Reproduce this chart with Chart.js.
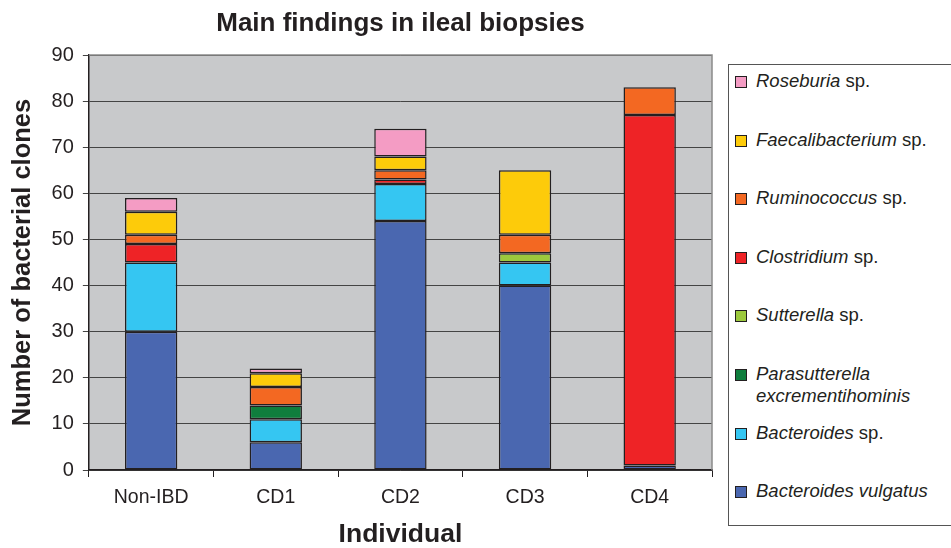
<!DOCTYPE html>
<html>
<head>
<meta charset="utf-8">
<script src="https://cdn.jsdelivr.net/npm/chart.js@4.4.1/dist/chart.umd.min.js"></script>
<style>
  body { margin: 0; background: #fff; font-family: "Liberation Sans", Arial, sans-serif; }
  #wrap { position: relative; width: 951px; height: 548px; }
  #legend { position: absolute; left: 728px; top: 64px; width: 240px; height: 462px;
            border: 1px solid #555; box-sizing: border-box; background: #fff; }
  .item { position: absolute; left: 6px; font-size: 18.5px; line-height: 22px; color: #231f20; white-space: nowrap; }
  .item i { font-style: italic; }
  .sw { position: absolute; left: 0; top: 6px; width: 10px; height: 10px; border: 1px solid #231f20; }
  .txt { margin-left: 21px; }
</style>
</head>
<body>
<div id="wrap">
  <canvas id="bar-chart" width="951" height="548"></canvas>
  <div id="legend"></div>
</div>
<script>
var individuals = ['Non-IBD', 'CD1', 'CD2', 'CD3', 'CD4'];

// counts per individual, bottom of stack first
var bacteroidesVulgatus = [30, 6, 54, 40, 1];
var bacteroidesSp       = [15, 5, 8, 5, 0];
var parasutterella      = [0, 3, 0, 0, 0];
var sutterella          = [0, 0, 0, 2, 0];
var clostridium         = [4, 0, 1, 0, 76];
var ruminococcus        = [2, 4, 2, 4, 6];
var faecalibacterium    = [5, 3, 3, 14, 0];
var roseburia           = [3, 1, 6, 0, 0];

var yTicks = [0, 10, 20, 30, 40, 50, 60, 70, 80, 90];

var series = [
  { genus: 'Bacteroides vulgatus', rest: '', data: bacteroidesVulgatus, color: '#4a67b0' },
  { genus: 'Bacteroides', rest: ' sp.', data: bacteroidesSp, color: '#35c6f2' },
  { genus: 'Parasutterella<br>excrementihominis', rest: '', data: parasutterella, color: '#0f7e3d' },
  { genus: 'Sutterella', rest: ' sp.', data: sutterella, color: '#9cc93d' },
  { genus: 'Clostridium', rest: ' sp.', data: clostridium, color: '#ee2326' },
  { genus: 'Ruminococcus', rest: ' sp.', data: ruminococcus, color: '#f36822' },
  { genus: 'Faecalibacterium', rest: ' sp.', data: faecalibacterium, color: '#fdcb0a' },
  { genus: 'Roseburia', rest: ' sp.', data: roseburia, color: '#f49cc4' }
];

var chartTitle = 'Main findings in ileal biopsies';

var plotBg = {
  id: 'plotBg',
  beforeDraw: function(chart) {
    var a = chart.chartArea, c = chart.ctx;
    c.save();
    c.fillStyle = '#c8c9cb';
    c.fillRect(a.left, a.top, a.right - a.left, a.bottom - a.top);
    c.restore();
  },
  afterDatasetsDraw: function(chart) {
    var a = chart.chartArea, c = chart.ctx;
    c.save();
    c.strokeStyle = '#8a8a8a';
    c.lineWidth = 1.5;
    c.beginPath();
    c.moveTo(a.left, a.top); c.lineTo(a.right, a.top); c.lineTo(a.right, a.bottom);
    c.stroke();
    // title sits centred over the plot area, not the whole canvas
    c.fillStyle = '#231f20';
    c.font = 'bold 26px "Liberation Sans"';
    c.textAlign = 'center';
    c.textBaseline = 'middle';
    c.fillText(chartTitle, (a.left + a.right) / 2, 24);
    c.restore();
  }
};

new Chart(document.getElementById('bar-chart'), {
  type: 'bar',
  data: {
    labels: individuals,
    datasets: series.map(function(s) {
      return {
        label: s.genus.replace('<br>', ' ') + s.rest,
        // empty segments are left out so they draw no border line
        data: s.data.map(function(v) { return v === 0 ? null : v; }),
        backgroundColor: s.color,
        borderColor: '#231f20',
        borderWidth: 1.5,
        borderSkipped: false,
        barPercentage: 0.42,
        categoryPercentage: 1
      };
    })
  },
  options: {
    responsive: false,
    animation: false,
    layout: { padding: { left: 8, right: 239, top: 55, bottom: 0 } },
    plugins: {
      legend: { display: false },
      tooltip: { enabled: false },
      title: { display: false }
    },
    scales: {
      x: {
        stacked: true,
        grid: { display: true, drawOnChartArea: false, offset: true, color: '#231f20', tickLength: 7 },
        border: { color: '#231f20', width: 1.5 },
        ticks: { color: '#231f20', font: { family: 'Liberation Sans', size: 19.5, lineHeight: 1 }, padding: 11 },
        title: { display: true, text: 'Individual', color: '#231f20',
                 font: { family: 'Liberation Sans', size: 26.5, weight: 'bold', lineHeight: 1 },
                 padding: { top: 3, bottom: 0 } }
      },
      y: {
        stacked: true,
        min: 0,
        max: 90,
        afterBuildTicks: function(axis) { axis.ticks = yTicks.map(function(v) { return { value: v }; }); },
        grid: { color: '#444444', lineWidth: 1, tickLength: 6 },
        border: { color: '#231f20', width: 1.5 },
        ticks: { color: '#231f20', font: { family: 'Liberation Sans', size: 20 }, padding: 9 },
        title: { display: true, text: 'Number of bacterial clones', color: '#231f20',
                 font: { family: 'Liberation Sans', size: 25.5, weight: 'bold' }, padding: { top: 0, bottom: 4 } }
      }
    }
  },
  plugins: [plotBg]
});

// legend, top entry = top of stack
var legend = document.getElementById('legend');
series.slice().reverse().forEach(function(s, i) {
  var d = document.createElement('div');
  d.className = 'item';
  d.style.top = (80 - 64 - 11 + i * 58.6) + 'px';
  d.innerHTML = '<span class="sw" style="background:' + s.color + '"></span>' +
                '<div class="txt"><i>' + s.genus + '</i>' + s.rest + '</div>';
  legend.appendChild(d);
});
</script>
</body>
</html>
